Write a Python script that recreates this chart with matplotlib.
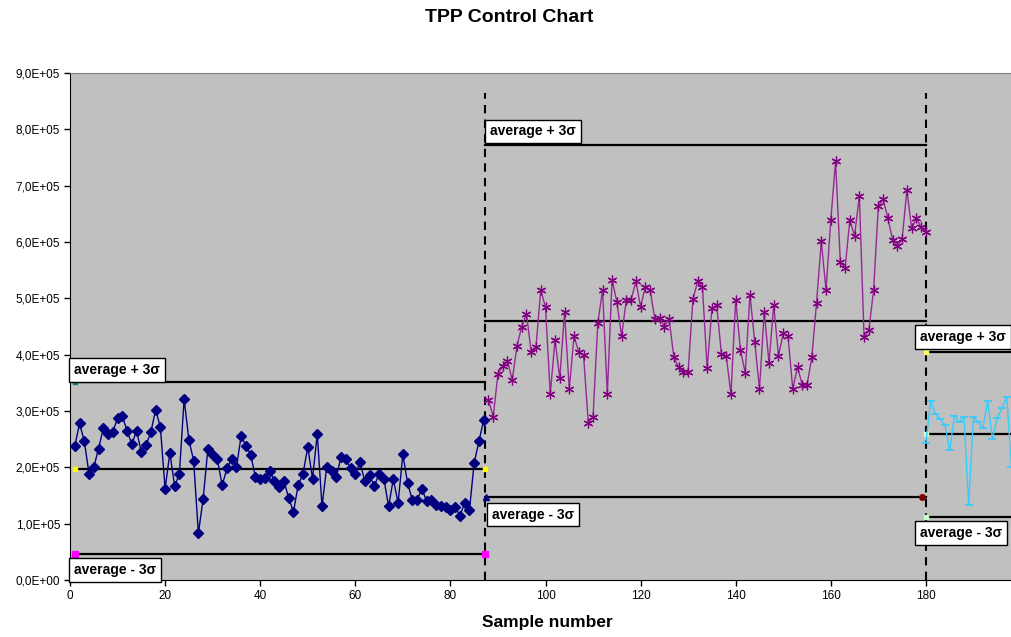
import numpy as np
import matplotlib
matplotlib.use("Agg")
import matplotlib.pyplot as plt
from matplotlib.ticker import FuncFormatter, MultipleLocator

plt.rcParams['font.family'] = ['Liberation Sans', 'DejaVu Sans']

# ---------------- data ----------------
title = "TPP Control Chart"
xlabel = "Sample number"

# Phase 1 (samples 1..87)
phase1_start = 1
phase1_values = [2.37, 2.78, 2.47, 1.89, 2.00, 2.33, 2.69, 2.60, 2.63, 2.87,
                 2.91, 2.65, 2.41, 2.65, 2.27, 2.40, 2.62, 3.02, 2.72, 1.62,
                 2.26, 1.67, 1.88, 3.21, 2.49, 2.12, 0.83, 1.44, 2.33, 2.22,
                 2.14, 1.68, 1.98, 2.14, 2.00, 2.56, 2.38, 2.22, 1.83, 1.79,
                 1.81, 1.94, 1.75, 1.65, 1.76, 1.45, 1.21, 1.69, 1.88, 2.36,
                 1.80, 2.59, 1.31, 2.01, 1.94, 1.82, 2.19, 2.15, 1.99, 1.88,
                 2.09, 1.75, 1.86, 1.67, 1.88, 1.80, 1.31, 1.79, 1.37, 2.23,
                 1.72, 1.42, 1.42, 1.62, 1.40, 1.42, 1.33, 1.31, 1.30, 1.24,
                 1.30, 1.14, 1.37, 1.24, 2.08, 2.46, 2.84]

# Phase 2 (samples 88..180)
phase2_start = 88
phase2_values = [3.20, 2.90, 3.66, 3.79, 3.89, 3.55, 4.15, 4.50, 4.73, 4.04,
                 4.14, 5.15, 4.84, 3.30, 4.26, 3.58, 4.75, 3.39, 4.33, 4.04,
                 3.99, 2.79, 2.90, 4.56, 5.15, 3.30, 5.33, 4.94, 4.33, 4.97,
                 4.97, 5.30, 4.85, 5.21, 5.15, 4.63, 4.65, 4.50, 4.63, 3.95,
                 3.78, 3.70, 3.70, 4.98, 5.30, 5.21, 3.76, 4.82, 4.88, 4.01,
                 3.98, 3.30, 4.97, 4.08, 3.68, 5.06, 4.23, 3.39, 4.76, 3.86,
                 4.88, 3.98, 4.38, 4.33, 3.39, 3.78, 3.46, 3.46, 3.95, 4.92,
                 6.01, 5.15, 6.39, 7.43, 5.65, 5.53, 6.39, 6.11, 6.82, 4.31,
                 4.43, 5.15, 6.64, 6.76, 6.42, 6.04, 5.93, 6.05, 6.92, 6.24,
                 6.42, 6.26, 6.18]

# Phase 3 (samples 180..198)
phase3_start = 180
phase3_values = [2.44, 3.17, 2.95, 2.85, 2.75, 2.30, 2.92, 2.80, 2.90, 1.33,
                 2.90, 2.80, 2.70, 3.17, 2.50, 2.88, 3.05, 3.25, 2.00]

value_scale = 1e5

# control limits per phase (in 1E5)
limits_x = [(1, 87.3), (87.3, 180), (180, 200)]
limits_lower = [0.46, 1.47, 1.12]
limits_mean = [1.975, 4.60, 2.59]
limits_upper = [3.52, 7.72, 4.05]
phase_boundaries = [87.3, 180]

label_upper = "average + 3σ"
label_lower = "average - 3σ"

# ---------------- figure ----------------
W, H = 1011, 637
fig = plt.figure(figsize=(W / 100, H / 100), dpi=100)
fig.patch.set_facecolor('white')
ax_l, ax_r, ax_b, ax_t = 70, 1011, 580, 73
ax = fig.add_axes([ax_l / W, 1 - ax_b / H, (ax_r - ax_l) / W, (ax_b - ax_t) / H])
ax.set_facecolor('#C0C0C0')

xmax = (ax_r - ax_l) / 4.755
ax.set_xlim(0, xmax)
ax.set_ylim(0, 9e5)

# control lines
ctrl_marker_cols = [('#008080', '#FFFF00', '#FF00FF'),
                    ('#000080', '#000080', '#800000'),
                    ('#FFFF66', '#CCFFCC', '#CCFFCC')]
for i, (xs, xe) in enumerate(limits_x):
    for val in [limits_upper[i], limits_mean[i], limits_lower[i]]:
        ax.plot([xs, xe], [val * value_scale] * 2, color='black', lw=1.6, zorder=3)
    mc = ctrl_marker_cols[i]
    if i == 0:
        ax.plot([xs], [limits_upper[i] * value_scale], 's', color=mc[0], ms=3, zorder=4)
        ax.plot([xs, xe], [limits_mean[i] * value_scale] * 2, 's', color=mc[1], ms=3, zorder=4)
        ax.plot([xs, xe], [limits_lower[i] * value_scale] * 2, 's', color=mc[2], ms=4, zorder=4)
    elif i == 1:
        ax.plot([xe - 0.8], [limits_lower[i] * value_scale], 'o', color=mc[2], ms=4, zorder=4)
        ax.plot([xs + 0.2], [limits_lower[i] * value_scale], '^', color=mc[0], ms=4, zorder=4)
    else:
        ax.plot([xs], [limits_upper[i] * value_scale], 's', color=mc[0], ms=3, zorder=4)
        ax.plot([xs], [limits_mean[i] * value_scale], 's', color=mc[1], ms=3, zorder=4)
        ax.plot([xs], [limits_lower[i] * value_scale], 's', color=mc[2], ms=3, zorder=4)

# vertical dashed boundaries
for xb in phase_boundaries:
    ax.plot([xb, xb], [0, 8.65e5], color='black', lw=1.5, ls=(0, (4, 3)), zorder=3)

# series
x1 = np.arange(phase1_start, phase1_start + len(phase1_values))
x2 = np.arange(phase2_start, phase2_start + len(phase2_values))
x3 = np.arange(phase3_start, phase3_start + len(phase3_values))
ax.plot(x1, np.array(phase1_values) * value_scale, color='#000080', lw=1,
        marker='D', ms=5, mfc='#000080', mec='#000080', zorder=5)
ax.plot(x2, np.array(phase2_values) * value_scale, color='#962895', lw=1,
        marker=(6, 2, 0), ms=7, mec='#800080', mew=0.9, zorder=5)
ax.plot(x3, np.array(phase3_values) * value_scale, color='#33CCFF', lw=1,
        marker='_', ms=6, mec='#33CCFF', mew=1.2, zorder=5)

# labels
def px2data(px, py):
    return ((px - ax_l) / 4.755, (ax_b - py) / ((ax_b - ax_t) / 9) * 1e5)

box = dict(boxstyle='square,pad=0.35', fc='white', ec='black', lw=1)
label_pos = [(74, 370, label_upper), (74, 570, label_lower),
             (490, 131.5, label_upper), (492, 514.5, label_lower),
             (920, 337, label_upper), (920, 533, label_lower)]
for px, py, txt in label_pos:
    xd, yd = px2data(px, py)
    ax.text(xd, yd, txt, ha='left', va='center', fontsize=10, fontweight='bold',
            bbox=box, zorder=6, clip_on=False)

# axes styling
ax.xaxis.set_major_locator(MultipleLocator(20))
ax.yaxis.set_major_locator(MultipleLocator(1e5))

def yfmt(v, pos):
    if v == 0:
        return "0,0E+00"
    e = int(np.floor(np.log10(abs(v))))
    m = v / 10 ** e
    return f"{m:.1f}".replace('.', ',') + f"E+{e:02d}"

ax.yaxis.set_major_formatter(FuncFormatter(yfmt))
ax.tick_params(axis='both', direction='out', length=4, width=1, labelsize=8.5,
               colors='black', pad=3)
ax.spines['right'].set_visible(False)
ax.spines['top'].set_color('#808080')
ax.spines['left'].set_color('black')
ax.spines['bottom'].set_color('black')

fig.text(509 / W, 1 - 18 / H, title, ha='center', va='center',
         fontsize=14, fontweight='bold')
fig.text(547 / W, 1 - 622 / H, xlabel, ha='center', va='center',
         fontsize=12.5, fontweight='bold')

fig.savefig('out.png', dpi=100, facecolor='white')
